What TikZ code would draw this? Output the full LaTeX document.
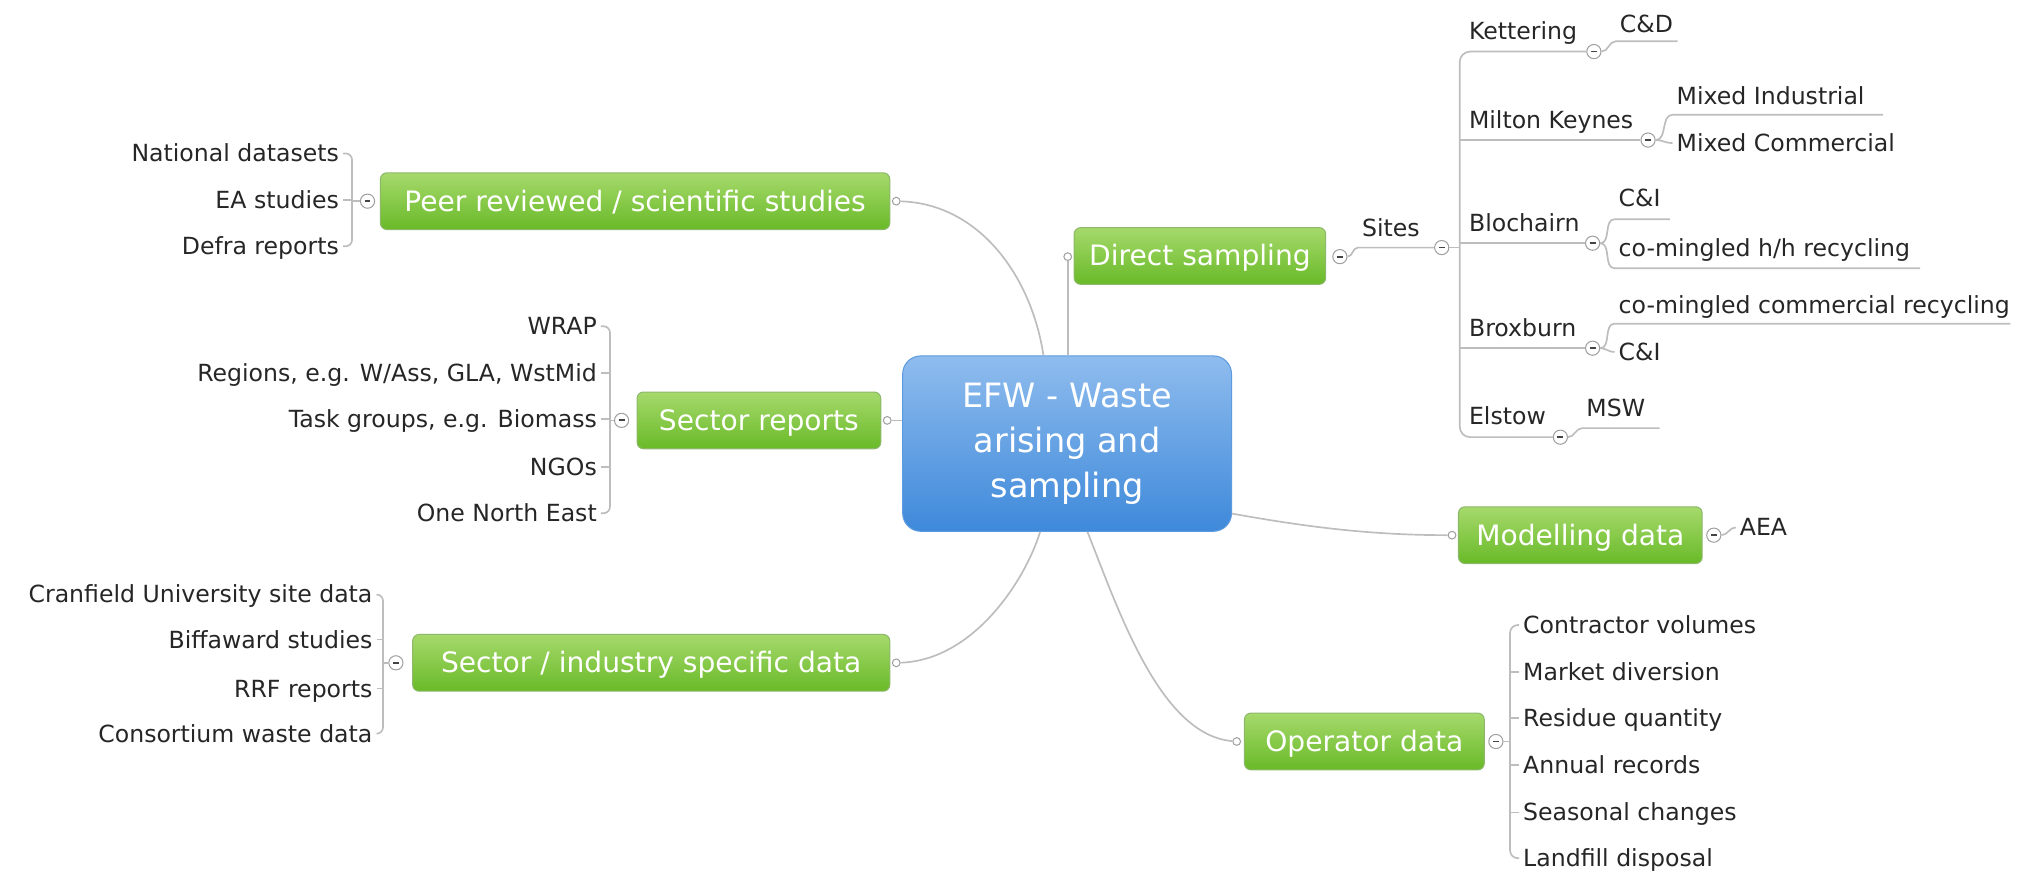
\documentclass[tikz,border=0pt]{standalone}
\usepackage{fontspec}
\setmainfont{DejaVu Sans}
\definecolor{connc}{HTML}{BDBDBD}
\definecolor{leafc}{HTML}{262626}
\definecolor{gtop}{HTML}{A6D96C}
\definecolor{gbot}{HTML}{69BA28}
\definecolor{gborder}{HTML}{8DB86B}
\definecolor{ctop}{HTML}{8FBCEE}
\definecolor{cbot}{HTML}{3E89DA}
\definecolor{cborder}{HTML}{5D9BE0}
\definecolor{circc}{HTML}{A0A0A0}
\definecolor{minusc}{HTML}{444444}
\begin{document}
\begin{tikzpicture}[x=1pt,y=-1pt,
  conn/.style={draw=connc, line width=1.3pt},
  leaf/.style={font=\fontsize{18.3}{20}\selectfont, text=leafc, inner xsep=3pt, inner ysep=0pt, text height=13pt, text depth=0pt},
  gbox/.style={draw=gborder, line width=0.8pt, rounded corners=5pt, top color=gtop, bottom color=gbot, text=white,
    font=\fontsize{21.8}{24}\selectfont, text height=15.5pt, text depth=0pt, minimum height=44pt, inner sep=0pt},
  cbox/.style={draw=cborder, line width=0.8pt, rounded corners=14pt, top color=ctop, bottom color=cbot, text=white,
    font=\fontsize{26}{35}\selectfont, align=center, inner sep=0pt},
  mcirc/.style={circle, draw=circc, fill=white, minimum size=11pt, inner sep=0pt, line width=0.8pt,
    path picture={\draw[line width=1.4pt, draw=minusc] ([xshift=-2.3pt]path picture bounding box.center) -- ([xshift=2.3pt]path picture bounding box.center);}},
  ocirc/.style={circle, draw=circc, fill=white, minimum size=6pt, inner sep=0pt, line width=0.8pt}]

\useasboundingbox (0,0) rectangle (1568,677);

% central topic
\node[cbox, minimum width=255pt, minimum height=136pt] (ctr) at (827.5,344) {EFW - Waste\\arising and\\sampling};

% main topics
\node[gbox, minimum width=395pt] (peer) at (492.5,156) {Peer reviewed / scientific studies};
\node[gbox, minimum width=189pt] (sect) at (588.5,326) {Sector reports};
\node[gbox, minimum width=370pt] (sind) at (505,514) {Sector / industry specific data};
\node[gbox, minimum width=195pt] (direct) at (930.5,198.5) {Direct sampling};
\node[gbox, minimum width=189pt] (model) at (1225.5,415) {Modelling data};
\node[gbox, minimum width=186pt] (oper) at (1058,575) {Operator data};

% connection points
\node[ocirc] (peerR) at (695,156) {};
\node[ocirc] (sectR) at (688,326) {};
\node[ocirc] (sindR) at (695,514) {};
\node[ocirc] (directL) at (828,199) {};
\node[ocirc] (modelL) at (1126,415) {};
\node[ocirc] (operL) at (959,575) {};

\draw[conn] (peerR) .. controls (760,158) and (800,215) .. (ctr.105);
\draw[conn] (sectR) -- (sectR -| ctr.west);
\draw[conn] (sindR) .. controls (755,512) and (795,450) .. (ctr.253);
\draw[conn] (directL) -- (directL |- ctr.north);
\draw[conn] (ctr.337) .. controls (1010,408) and (1060,415) .. (modelL);
\draw[conn] (ctr.283) .. controls (868,475) and (900,570) .. (operL);

% collapse circles
\node[mcirc] (peerL) at (285,156) {};
\node[mcirc] (sectL) at (482,326) {};
\node[mcirc] (sindL) at (307,514) {};
\node[mcirc] (directR) at (1039,199) {};
\node[mcirc] (sitesC) at (1118,192) {};
\node[mcirc] (ketC) at (1236,40) {};
\node[mcirc] (mkC) at (1278,108.6) {};
\node[mcirc] (blC) at (1235,188.6) {};
\node[mcirc] (bxC) at (1235,270) {};
\node[mcirc] (elC) at (1210,339) {};
\node[mcirc] (modelR) at (1329,415) {};
\node[mcirc] (operR) at (1160,575) {};

% ---------- Direct sampling branch ----------
\node[leaf, anchor=west] (sites) at (1053,177) {Sites};
\draw[conn] (directR.east) to[out=0,in=180] (sites.west |- sitesC) -- (sitesC.west);

\coordinate (sitesBar) at (1132,192);
\draw[conn] (sitesC) -- (sitesBar);
\draw[conn, rounded corners=8pt] (ketC.west) -- (sitesBar |- ketC) -- (sitesBar |- elC) -- (elC.west);
\draw[conn] (sitesBar |- mkC) -- (mkC);
\draw[conn] (sitesBar |- blC) -- (blC);
\draw[conn] (sitesBar |- bxC) -- (bxC);

\node[leaf, anchor=west] (ket) at (1136,24.5) {Kettering};
\node[leaf, anchor=west] (mk) at (1136,93) {Milton Keynes};
\node[leaf, anchor=west] (bl) at (1136,173) {Blochairn};
\node[leaf, anchor=west] (bx) at (1136,254.6) {Broxburn};
\node[leaf, anchor=west] (el) at (1136,323) {Elstow};

\node[leaf, anchor=west] (cd) at (1253,18.6) {C\&D};
\coordinate (cdEnd) at (1301,32);
\draw[conn] (ketC.east) to[out=0,in=180] (cd.west |- cdEnd) -- (cdEnd);

\node[leaf, anchor=west] (mi) at (1297,74.4) {Mixed Industrial};
\coordinate (miEnd) at (1460,89);
\draw[conn] (mkC.east) to[out=0,in=180] (mi.west |- miEnd) -- (miEnd);
\node[leaf, anchor=west] (mc) at (1297,111) {Mixed Commercial};
\draw[conn] (mkC.east) to[out=0,in=180] (mc.west);

\node[leaf, anchor=west] (ciA) at (1252,154) {C\&I};
\coordinate (ciAEnd) at (1295,170);
\draw[conn] (blC.east) to[out=0,in=180] (ciA.west |- ciAEnd) -- (ciAEnd);
\node[leaf, anchor=west] (chh) at (1252,192.6) {co-mingled h/h recycling};
\coordinate (chhEnd) at (1489,208);
\draw[conn] (blC.east) to[out=0,in=180] (chh.west |- chhEnd) -- (chhEnd);

\node[leaf, anchor=west] (ccr) at (1252,236.6) {co-mingled commercial recycling};
\coordinate (ccrEnd) at (1559,251);
\draw[conn] (bxC.east) to[out=0,in=180] (ccr.west |- ccrEnd) -- (ccrEnd);
\node[leaf, anchor=west] (ciB) at (1252,273) {C\&I};
\draw[conn] (bxC.east) to[out=0,in=180] (ciB.west);

\node[leaf, anchor=west] (msw) at (1227,316.5) {MSW};
\coordinate (mswEnd) at (1287,332);
\draw[conn] (elC.east) to[out=0,in=180] (msw.west |- mswEnd) -- (mswEnd);

% ---------- Modelling data ----------
\node[leaf, anchor=west] (aea) at (1346,409) {AEA};
\draw[conn] (modelR.east) to[out=0,in=180] (aea.west);

% ---------- Operator data ----------
\coordinate (operBar) at (1171,575);
\node[leaf, anchor=west] (o1) at (1178,484.7) {Contractor volumes};
\node[leaf, anchor=west] (o2) at (1178,521) {Market diversion};
\node[leaf, anchor=west] (o3) at (1178,557) {Residue quantity};
\node[leaf, anchor=west] (o4) at (1178,593) {Annual records};
\node[leaf, anchor=west] (o5) at (1178,630) {Seasonal changes};
\node[leaf, anchor=west] (o6) at (1178,665.5) {Landfill disposal};
\draw[conn] (operR) -- (operBar);
\draw[conn, rounded corners=6pt] (o1.west) -- (operBar |- o1) -- (operBar |- o6) -- (o6.west);
\draw[conn] (operBar |- o2) -- (o2.west);
\draw[conn] (operBar |- o3) -- (o3.west);
\draw[conn] (operBar |- o4) -- (o4.west);
\draw[conn] (operBar |- o5) -- (o5.west);

% ---------- Peer reviewed ----------
\coordinate (peerBar) at (273,156);
\node[leaf, anchor=east] (p1) at (266,119) {National datasets};
\node[leaf, anchor=east] (p2) at (266,155) {EA studies};
\node[leaf, anchor=east] (p3) at (266,191) {Defra reports};
\draw[conn] (peerL) -- (peerBar);
\draw[conn, rounded corners=5pt] (p1.east) -- (peerBar |- p1) -- (peerBar |- p3) -- (p3.east);
\draw[conn] (peerBar |- p2) -- (p2.east);

% ---------- Sector reports ----------
\coordinate (sectBar) at (473,326);
\node[leaf, anchor=east] (s1) at (466,253) {WRAP};
\node[leaf, anchor=east] (s2) at (466,289) {Regions, e.g. W/Ass, GLA, WstMid};
\node[leaf, anchor=east] (s3) at (466,325) {Task groups, e.g. Biomass};
\node[leaf, anchor=east] (s4) at (466,362) {NGOs};
\node[leaf, anchor=east] (s5) at (466,398) {One North East};
\draw[conn] (sectL) -- (sectBar);
\draw[conn, rounded corners=5pt] (s1.east) -- (sectBar |- s1) -- (sectBar |- s5) -- (s5.east);
\draw[conn] (sectBar |- s2) -- (s2.east);
\draw[conn] (sectBar |- s3) -- (s3.east);
\draw[conn] (sectBar |- s4) -- (s4.east);

% ---------- Sector / industry ----------
\coordinate (sindBar) at (297,514);
\node[leaf, anchor=east] (i1) at (292,461) {Cranfield University site data};
\node[leaf, anchor=east] (i2) at (292,496) {Biffaward studies};
\node[leaf, anchor=east] (i3) at (292,534) {RRF reports};
\node[leaf, anchor=east] (i4) at (292,569) {Consortium waste data};
\draw[conn] (sindL) -- (sindBar);
\draw[conn, rounded corners=5pt] (i1.east) -- (sindBar |- i1) -- (sindBar |- i4) -- (i4.east);
\draw[conn] (sindBar |- i2) -- (i2.east);
\draw[conn] (sindBar |- i3) -- (i3.east);

\end{tikzpicture}
\end{document}
